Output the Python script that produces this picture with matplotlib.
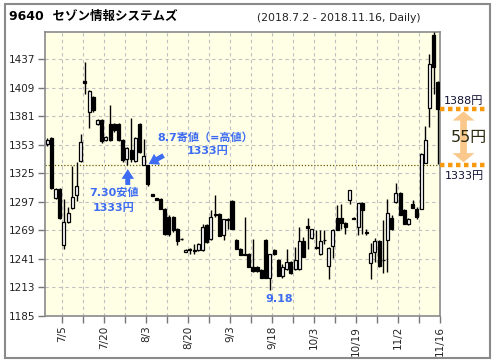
import matplotlib
matplotlib.use('Agg')
import matplotlib.pyplot as plt
from matplotlib.patches import Polygon, Rectangle
import numpy as np

# daily candles, 2018-07-02 .. 2018-11-16 (days without trades are skipped)
opens = [1354, 1360, 1301, 1310, 1255, 1277, 1291, 1304, 1337, 1416,
         1385, 1400, 1374, 1378, 1358, 1374, 1374, 1374, 1358, 1339,
         1348, 1337, 1374, 1333, 1333, 1305, 1301, 1300, 1290, 1282,
         1282, 1270, 1261, 1248, 1251, 1250, 1250, 1250, 1274, 1261,
         1285, 1285, 1265, 1280, 1298, 1260, 1251, 1246, 1246, 1233,
         1233, 1230, 1260, 1222, 1250, 1240, 1224, 1231, 1238, 1231,
         1231, 1259, 1273, 1262, 1253, 1246, 1260, 1234, 1254, 1281,
         1281, 1276, 1299, 1281, 1272, 1296, 1268, 1237, 1248, 1259,
         1240, 1260, 1281, 1297, 1306, 1289, 1275, 1295, 1290, 1290,
         1335, 1389, 1461, 1415]
highs = [1360, 1361, 1311, 1311, 1300, 1292, 1332, 1336, 1364, 1435,
         1407, 1401, 1379, 1379, 1362, 1392, 1375, 1375, 1359, 1351,
         1380, 1361, 1375, 1359, 1333, 1305, 1301, 1301, 1291, 1284,
         1283, 1271, 1262, 1251, 1252, 1256, 1257, 1275, 1275, 1289,
         1304, 1286, 1280, 1281, 1299, 1261, 1252, 1282, 1247, 1261,
         1234, 1231, 1261, 1246, 1251, 1241, 1236, 1251, 1239, 1253,
         1272, 1263, 1281, 1270, 1269, 1269, 1269, 1253, 1270, 1294,
         1295, 1277, 1309, 1282, 1296, 1297, 1270, 1257, 1262, 1260,
         1279, 1300, 1284, 1316, 1307, 1290, 1281, 1299, 1292, 1345,
         1372, 1442, 1464, 1416]
lows = [1352, 1310, 1300, 1280, 1251, 1276, 1290, 1298, 1336, 1403,
        1370, 1385, 1373, 1355, 1357, 1357, 1366, 1357, 1336, 1333,
        1336, 1336, 1345, 1333, 1313, 1303, 1299, 1290, 1265, 1264,
        1268, 1255, 1260, 1248, 1246, 1246, 1249, 1249, 1257, 1260,
        1282, 1264, 1260, 1270, 1270, 1251, 1245, 1245, 1233, 1228,
        1228, 1222, 1222, 1211, 1245, 1224, 1222, 1230, 1226, 1230,
        1230, 1243, 1251, 1261, 1251, 1245, 1256, 1221, 1242, 1269,
        1270, 1266, 1295, 1280, 1265, 1266, 1265, 1221, 1238, 1233,
        1227, 1228, 1269, 1296, 1284, 1275, 1274, 1291, 1280, 1290,
        1335, 1371, 1403, 1334]
closes = [1358, 1311, 1310, 1281, 1277, 1286, 1302, 1313, 1356, 1414,
          1406, 1387, 1378, 1357, 1361, 1358, 1368, 1358, 1338, 1350,
          1339, 1360, 1346, 1342, 1315, 1303, 1299, 1290, 1266, 1266,
          1269, 1259, 1261, 1250, 1250, 1249, 1256, 1272, 1258, 1282,
          1284, 1264, 1280, 1279, 1270, 1251, 1245, 1245, 1233, 1229,
          1229, 1222, 1222, 1246, 1246, 1224, 1233, 1238, 1227, 1240,
          1259, 1243, 1271, 1270, 1252, 1259, 1260, 1252, 1269, 1269,
          1276, 1272, 1309, 1280, 1296, 1289, 1267, 1247, 1259, 1234,
          1240, 1286, 1270, 1306, 1284, 1275, 1280, 1291, 1282, 1344,
          1358, 1433, 1430, 1388]

tick_idx = [3, 13, 23, 33, 43, 53, 63, 73, 83, 93]
tick_labels = ['7/5', '7/20', '8/3', '8/20', '9/3', '9/18', '10/3', '10/19', '11/2', '11/16']
yticks = [1185, 1213, 1241, 1269, 1297, 1325, 1353, 1381, 1409, 1437]

low_0730 = 1333      # 7/30 low
open_0807 = 1333     # 8/7 open (= high)
last_close = 1388
idx_0730 = 19
idx_0807 = 24
idx_0918 = 53

jp = ['DejaVu Sans', 'Noto Sans CJK JP']
blue = '#3d6cf2'

fig = plt.figure(figsize=(4.96, 3.64), dpi=100)
fig.patches.append(Rectangle((5 / 496, 1 - 358 / 364), 485 / 496, 354 / 364,
                             transform=fig.transFigure, fill=False,
                             edgecolor='#8a8a8a', linewidth=1.5))
ax = fig.add_axes([45 / 496, 1 - 316 / 364, 395 / 496, 284 / 364])
ax.set_facecolor('#ffffe6')

x = np.arange(len(opens))
o = np.array(opens)
c = np.array(closes)
up = c >= o
ax.vlines(x, lows, highs, color='black', linewidth=1, zorder=3)
ax.bar(x[up], (c - o)[up], bottom=o[up], width=0.72, color='white',
       edgecolor='black', linewidth=0.9, zorder=4)
dn = ~up
hgt = np.where(np.abs(c - o) < 1, -1, c - o)
ax.bar(x[dn], hgt[dn], bottom=o[dn], width=0.72, color='black',
       edgecolor='black', linewidth=0.9, zorder=4)

ax.set_xlim(-0.5, len(opens) - 0.5)
ax.set_ylim(1185, 1464)
ax.set_yticks(yticks)
ax.set_yticklabels([str(v) for v in yticks], fontsize=7.5, color='#222222')
minor = np.arange(3, 94, 5) + 0.5
ax.set_xticks(minor)
ax.set_xticklabels([tick_labels[tick_idx.index(int(m))] if int(m) in tick_idx else ''
                    for m in minor], rotation=90, fontsize=7.5, color='#222222')
ax.tick_params(length=5, color='#777777', width=1, pad=2)
ax.grid(True, color='#c0c0c0', linestyle=(0, (3, 3)), linewidth=0.8)
ax.set_axisbelow(True)
for s in ax.spines.values():
    s.set_color('#8a8a8a')
    s.set_linewidth(1.2)

# 1333 reference line
ax.axhline(low_0730, color='#6b5a00', linestyle=(0, (1, 1.5)), linewidth=0.9, zorder=2)

# blue annotations
ax.annotate('', xy=(idx_0730 + 0.2, low_0730 - 1), xytext=(idx_0730 + 0.2, low_0730 - 22),
            arrowprops=dict(arrowstyle='simple,head_width=0.9,head_length=0.7,tail_width=0.35',
                            color=blue, lw=0), zorder=6)
ax.text(15.9, 1306, '7.30安値', family=jp, fontsize=8, fontweight='bold', color=blue,
        ha='center', va='center')
ax.text(15.9, 1291, f'{low_0730}円', family=jp, fontsize=8, fontweight='bold', color=blue,
        ha='center', va='center')
ax.annotate('', xy=(idx_0807 - 0.4, open_0807), xytext=(idx_0807 + 4.3, open_0807 + 11),
            arrowprops=dict(arrowstyle='simple,head_width=0.9,head_length=0.7,tail_width=0.35',
                            color=blue, lw=0), zorder=6)
ax.text(26.3, 1360, '8.7寄値（=高値）', family=jp, fontsize=8, fontweight='bold', color=blue,
        ha='left', va='center')
ax.text(38.3, 1347, f'{open_0807}円', family=jp, fontsize=8, fontweight='bold', color=blue,
        ha='center', va='center')
ax.text(idx_0918 + 2.2, 1202, '9.18', fontsize=8, fontweight='bold', color=blue,
        ha='center', va='center')

# right side: difference between the last close and 1333
orange = '#f59a0c'
for lvl in (last_close, low_0730):
    ax.plot([93.5, 105.0], [lvl, lvl], color=orange, linewidth=3.2,
            linestyle=(0, (1, 0.8)), clip_on=False, zorder=5)
ax.text(99.2, last_close + 8, f'{last_close}円', family=jp, fontsize=8, color='#111133',
        ha='center', va='center', clip_on=False)
ax.text(99.2, low_0730 - 10, f'{low_0730}円', family=jp, fontsize=8, color='#111133',
        ha='center', va='center', clip_on=False)
xc, sw, hw, hl = 99.1, 0.8, 2.6, 9
top, bot = last_close - 2, low_0730 + 3
arrow = Polygon([(xc, top), (xc + hw, top - hl), (xc + sw, top - hl), (xc + sw, bot + hl),
                 (xc + hw, bot + hl), (xc, bot), (xc - hw, bot + hl), (xc - sw, bot + hl),
                 (xc - sw, top - hl), (xc - hw, top - hl)],
                closed=True, facecolor='#f9c88a', edgecolor='none', clip_on=False, zorder=5)
ax.add_patch(arrow)
ax.text(xc + 1.2, (last_close + low_0730) / 2, f'{last_close - low_0730}円', family=jp,
        fontsize=11.5, color='#2a2a10', ha='center', va='center', clip_on=False, zorder=6)

fig.text(9 / 496, 1 - 16 / 364, '9640  セゾン情報システムズ', family=jp, fontsize=9,
         fontweight='bold', ha='left', va='center')
fig.text(339 / 496, 1 - 18 / 364, '(2018.7.2 - 2018.11.16, Daily)', fontsize=7.8,
         ha='center', va='center', color='#222222')

fig.savefig('out.png', dpi=100)
